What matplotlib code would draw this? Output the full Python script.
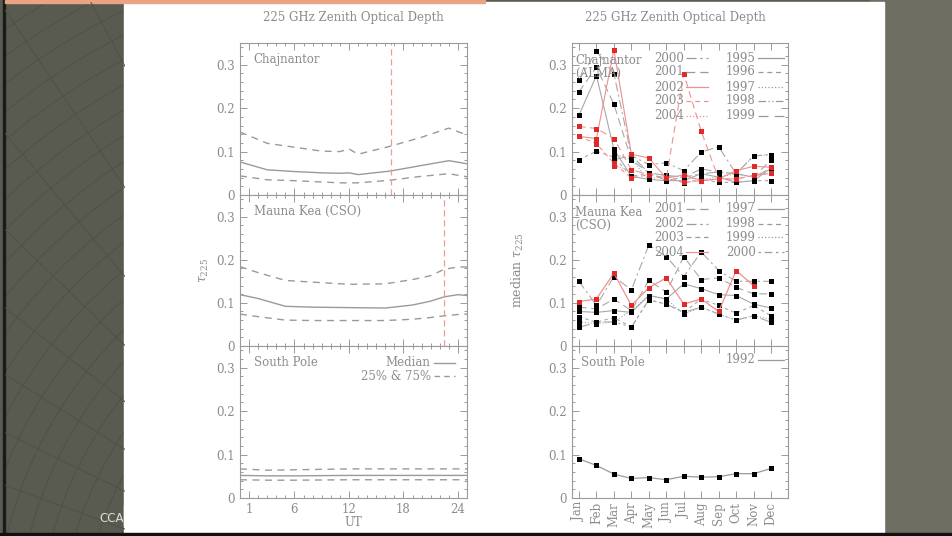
import numpy as np
import matplotlib.pyplot as plt
from matplotlib.patches import Rectangle, Circle
from matplotlib.ticker import MultipleLocator, FixedLocator, NullLocator

plt.rcParams['font.family'] = ['DejaVu Serif', 'DejaVu Sans']
plt.rcParams['mathtext.fontset'] = 'dejavuserif'

# ---- left column: diurnal tau vs UT ----
chaj_ut = [0, 3, 6, 9, 11, 12, 13, 16.5, 20, 23, 25]
chaj_median = [0.076, 0.058, 0.054, 0.051, 0.050, 0.051, 0.047, 0.055, 0.068, 0.079, 0.072]
chaj_q75 = [0.145, 0.119, 0.110, 0.101, 0.100, 0.106, 0.094, 0.112, 0.133, 0.154, 0.138]
chaj_q25 = [0.044, 0.035, 0.033, 0.030, 0.028, 0.028, 0.028, 0.034, 0.043, 0.049, 0.042]
chaj_mark = 16.6

mk_ut = [0, 2, 5, 8, 12, 16, 19, 21, 22.5, 24, 25]
mk_median = [0.119, 0.110, 0.092, 0.090, 0.089, 0.088, 0.095, 0.104, 0.114, 0.119, 0.117]
mk_q75 = [0.184, 0.170, 0.152, 0.148, 0.143, 0.144, 0.154, 0.163, 0.178, 0.183, 0.183]
mk_q25 = [0.074, 0.068, 0.060, 0.059, 0.059, 0.059, 0.062, 0.066, 0.070, 0.073, 0.074]
mk_mark = 22.5

sp_ut = [0, 3, 6, 12, 18, 25]
sp_median = [0.052, 0.051, 0.051, 0.052, 0.052, 0.052]
sp_q75 = [0.067, 0.064, 0.065, 0.067, 0.067, 0.067]
sp_q25 = [0.042, 0.041, 0.041, 0.042, 0.042, 0.042]

ut_ticks = [1, 6, 12, 18, 24]

# ---- right column: monthly medians per year ----
months = list(range(1, 13))
month_labels = ['Jan', 'Feb', 'Mar', 'Apr', 'May', 'Jun',
                'Jul', 'Aug', 'Sep', 'Oct', 'Nov', 'Dec']
nan = np.nan

chaj_years_black = [
    [0.265, 0.331, 0.279, 0.091, 0.070, 0.074, 0.056, 0.099, 0.111, 0.049, 0.090, 0.093],
    [0.238, 0.294, 0.209, 0.081, 0.051, 0.045, 0.041, 0.060, 0.053, 0.049, 0.041, 0.081],
    [0.184, 0.275, 0.105, 0.043, 0.036, 0.033, 0.033, 0.049, 0.041, 0.029, 0.033, 0.062],
    [0.081, 0.101, 0.087, 0.043, 0.051, 0.045, 0.028, 0.036, 0.029, 0.029, 0.033, 0.033],
    [nan, nan, 0.095, 0.081, 0.036, 0.045, 0.041, 0.036, 0.041, 0.049, 0.090, 0.093],
    [nan, nan, 0.081, 0.091, 0.051, 0.033, 0.041, 0.049, 0.053, 0.049, 0.041, 0.062],
]
chaj_years_red = [
    [0.135, 0.130, 0.335, 0.094, 0.085, 0.039, 0.046, 0.033, 0.037, 0.056, 0.066, 0.064],
    [0.158, 0.153, 0.130, 0.058, 0.047, 0.039, 0.279, 0.147, 0.037, 0.037, 0.045, 0.050],
    [0.135, 0.118, 0.073, 0.039, 0.047, 0.039, 0.029, 0.033, 0.037, 0.037, 0.045, 0.050],
    [nan, nan, 0.066, 0.058, nan, nan, nan, nan, nan, nan, nan, nan],
]
chaj_leg_left = ['2000', '2001', '2002', '2003', '2004']
chaj_leg_right = ['1995', '1996', '1997', '1998', '1999']

mk_years_black = [
    [0.150, 0.094, 0.161, 0.130, 0.234, 0.207, 0.161, 0.218, 0.175, 0.150, 0.150, 0.150],
    [0.090, 0.086, 0.109, 0.082, 0.152, 0.125, 0.207, 0.154, 0.158, 0.136, 0.121, 0.121],
    [0.080, 0.078, 0.082, 0.078, 0.117, 0.109, 0.144, 0.133, 0.119, 0.117, 0.097, 0.088],
    [0.068, 0.055, 0.066, 0.044, 0.107, 0.097, 0.078, 0.109, 0.094, 0.076, 0.094, 0.070],
    [0.056, 0.052, 0.056, 0.082, 0.117, 0.109, 0.074, 0.090, 0.074, 0.060, 0.070, 0.062],
    [0.043, 0.055, 0.056, 0.044, 0.107, 0.097, 0.078, 0.090, 0.074, 0.060, 0.070, 0.055],
]
mk_year_red = [0.103, 0.109, 0.169, 0.094, 0.135, 0.158, 0.097, 0.109, 0.080, 0.175, 0.140, nan]
mk_leg_left = ['2001', '2002', '2003', '2004']
mk_leg_right = ['1997', '1998', '1999', '2000']

sp_1992 = [0.090, 0.075, 0.055, 0.045, 0.047, 0.042, 0.050, 0.048, 0.049, 0.056, 0.056, 0.068]

GRAY = '#9a9a9a'
TXT = '#8c8c8c'
RED_M = '#e02a2a'
RED_L = '#f09090'
styles = [(0, (8, 3, 2, 3)), (0, (7, 4)), '-', (0, (3, 3)), ':',
          (0, (10, 3, 2, 3, 2, 3)), (0, (1, 2))]

W, H = 953, 536
fig = plt.figure(figsize=(W / 100, H / 100), dpi=100)

# slide background
bg = fig.add_axes([0, 0, 1, 1])
bg.set_xlim(0, W)
bg.set_ylim(H, 0)
bg.axis('off')
bg.add_patch(Rectangle((0, 0), W, H, color='#5a5b50'))
bg.add_patch(Rectangle((870, 0), W - 870, H, color='#6e6f62'))
clip = Rectangle((5, 2), 120, 531, transform=bg.transData)
for r in range(40, 900, 22):
    c = Circle((430, 640), r, fill=False, ec='#4f5047', lw=0.7)
    bg.add_patch(c)
    c.set_clip_path(clip)
for ang in np.arange(100, 200, 6):
    a = np.deg2rad(ang)
    ln, = bg.plot([430, 430 + 1200 * np.cos(a)], [640, 640 - 1200 * np.sin(a)],
                  color='#4f5047', lw=0.7)
    ln.set_clip_path(clip)
bg.add_patch(Rectangle((3, 0), 2.5, H, color='#1a1a1a'))
bg.add_patch(Rectangle((124, 2), 760, 531, color='white'))
bg.add_patch(Rectangle((5, 0), 480, 2.5, color='#e9a483'))
bg.add_patch(Rectangle((0, 533), W, 3, color='#111111'))
bg.text(99, 519, 'CCA', color='#dddddd', fontsize=8.5, family='DejaVu Sans',
        va='center', ha='left')
bg.add_patch(Rectangle((124, 505), 10, 20, color='white'))


def fx(px):
    return px / W


def fy(py):
    return 1 - py / H


rows = [(43, 195), (195, 346), (346, 498)]


def style_axes(ax):
    ax.set_ylim(0, 0.35)
    ax.yaxis.set_major_locator(FixedLocator([0, 0.1, 0.2, 0.3]))
    ax.yaxis.set_major_formatter(plt.FuncFormatter(lambda v, p: '0' if v == 0 else f'{v:.1f}'))
    ax.yaxis.set_minor_locator(MultipleLocator(0.02))
    ax.tick_params(which='both', direction='in', top=True, right=True,
                   colors=GRAY, labelcolor=TXT, labelsize=8.5, width=0.7)
    ax.tick_params(which='major', length=5)
    ax.tick_params(which='minor', length=2.5)
    for s in ax.spines.values():
        s.set_color(GRAY)
        s.set_linewidth(0.8)


left_axes = []
for top, bot in rows:
    ax = fig.add_axes([fx(240), fy(bot), fx(467 - 240), (bot - top) / H])
    style_axes(ax)
    ax.set_xlim(0, 25)
    ax.xaxis.set_major_locator(FixedLocator(ut_ticks))
    ax.xaxis.set_minor_locator(MultipleLocator(1))
    ax.set_xticklabels([])
    left_axes.append(ax)

right_axes = []
for top, bot in rows:
    ax = fig.add_axes([fx(572), fy(bot), fx(788 - 572), (bot - top) / H])
    style_axes(ax)
    ax.set_xlim(0.6, 12.97)
    ax.xaxis.set_major_locator(FixedLocator(months))
    ax.xaxis.set_minor_locator(NullLocator())
    ax.set_xticklabels([])
    right_axes.append(ax)

# left panels
left_sets = [(chaj_ut, chaj_median, chaj_q75, chaj_q25, chaj_mark, 'Chajnantor'),
             (mk_ut, mk_median, mk_q75, mk_q25, mk_mark, 'Mauna Kea (CSO)'),
             (sp_ut, sp_median, sp_q75, sp_q25, None, 'South Pole')]
for ax, (ut, med, q75, q25, mark, name) in zip(left_axes, left_sets):
    ax.plot(ut, med, color=GRAY, lw=1.0)
    ax.plot(ut, q75, color=GRAY, lw=1.0, ls=(0, (5, 4)))
    ax.plot(ut, q25, color=GRAY, lw=1.0, ls=(0, (5, 4)))
    if mark is not None:
        ax.axvline(mark, color='#f29a9a', lw=0.9, ls=(0, (5, 3)))
    ax.text(0.06, 0.87, name, transform=ax.transAxes, color=TXT, fontsize=8.5)

left_axes[2].set_xticklabels([str(t) for t in ut_ticks])
left_axes[2].set_xlabel('UT', color=TXT, fontsize=8.5, labelpad=0)
left_axes[1].set_ylabel(r'$\tau_{225}$', color=TXT, fontsize=9, labelpad=4)

ax = left_axes[2]
ax.text(0.84, 0.89, 'Median', transform=ax.transAxes, color=TXT, fontsize=8.5, ha='right', va='center')
ax.text(0.84, 0.80, '25% & 75%', transform=ax.transAxes, color=TXT, fontsize=8.5, ha='right', va='center')
ax.plot([0.855, 0.945], [0.89, 0.89], transform=ax.transAxes, color=GRAY, lw=1)
ax.plot([0.855, 0.945], [0.80, 0.80], transform=ax.transAxes, color=GRAY, lw=1, ls=(0, (4, 3)))

# right panels
ax = right_axes[0]
for i, vals in enumerate(chaj_years_black):
    ax.plot(months, vals, color='#a8a8a8', lw=0.8, ls=styles[i % len(styles)])
    ax.plot(months, vals, 's', color='black', ms=3.6, mew=0)
for i, vals in enumerate(chaj_years_red):
    ax.plot(months, vals, color=RED_L, lw=0.8, ls=['-', (0, (6, 4)), (0, (4, 3)), ':'][i])
    ax.plot(months, vals, 's', color=RED_M, ms=3.6, mew=0)
ax.text(0.015, 0.84, 'Chajnantor\n(ALMA)', transform=ax.transAxes, color=TXT,
        fontsize=8.5, va='center', linespacing=1.0)

leg_y = [0.90, 0.81, 0.71, 0.62, 0.52]
left_ls = [(0, (8, 3, 2, 3)), (0, (7, 4)), '-', (0, (4, 3)), ':']
left_col = [GRAY, GRAY, RED_L, RED_L, RED_L]
right_ls = ['-', (0, (4, 3)), ':', (0, (6, 2, 1, 2, 1, 2)), (0, (8, 5))]
for y, lab, ls, c in zip(leg_y, chaj_leg_left, left_ls, left_col):
    ax.text(0.52, y, lab, transform=ax.transAxes, color=TXT, fontsize=8.5, ha='right', va='center')
    ax.plot([0.53, 0.63], [y, y], transform=ax.transAxes, color=c, lw=0.9, ls=ls)
for y, lab, ls in zip(leg_y, chaj_leg_right, right_ls):
    ax.text(0.85, y, lab, transform=ax.transAxes, color=TXT, fontsize=8.5, ha='right', va='center')
    ax.plot([0.86, 0.98], [y, y], transform=ax.transAxes, color=GRAY, lw=0.9, ls=ls)

ax = right_axes[1]
for i, vals in enumerate(mk_years_black):
    ax.plot(months, vals, color='#a8a8a8', lw=0.8, ls=styles[i % len(styles)])
    ax.plot(months, vals, 's', color='black', ms=3.6, mew=0)
ax.plot(months, mk_year_red, color=RED_L, lw=0.9)
ax.plot(months, mk_year_red, 's', color=RED_M, ms=3.6, mew=0)
ax.text(0.015, 0.84, 'Mauna Kea\n(CSO)', transform=ax.transAxes, color=TXT,
        fontsize=8.5, va='center', linespacing=1.0)
ax.set_ylabel(r'median $\tau_{225}$', color=TXT, fontsize=9, labelpad=16)
leg_y = [0.91, 0.81, 0.72, 0.62]
left_ls = [(0, (7, 4)), (0, (8, 3, 2, 3)), (0, (4, 3)), '-']
left_col = [GRAY, GRAY, GRAY, RED_L]
right_ls = ['-', (0, (4, 3)), ':', (0, (2, 3, 6, 3))]
for y, lab, ls, c in zip(leg_y, mk_leg_left, left_ls, left_col):
    ax.text(0.52, y, lab, transform=ax.transAxes, color=TXT, fontsize=8.5, ha='right', va='center')
    ax.plot([0.53, 0.63], [y, y], transform=ax.transAxes, color=c, lw=0.9, ls=ls)
for y, lab, ls in zip(leg_y, mk_leg_right, right_ls):
    ax.text(0.85, y, lab, transform=ax.transAxes, color=TXT, fontsize=8.5, ha='right', va='center')
    ax.plot([0.86, 0.98], [y, y], transform=ax.transAxes, color=GRAY, lw=0.9, ls=ls)

ax = right_axes[2]
ax.plot(months, sp_1992, color=GRAY, lw=0.9)
ax.plot(months, sp_1992, 's', color='black', ms=3.6, mew=0)
ax.text(0.04, 0.87, 'South Pole', transform=ax.transAxes, color=TXT, fontsize=8.5)
ax.text(0.85, 0.91, '1992', transform=ax.transAxes, color=TXT, fontsize=8.5, ha='right', va='center')
ax.plot([0.86, 0.98], [0.91, 0.91], transform=ax.transAxes, color=GRAY, lw=0.9)
ax.set_xticklabels(month_labels, rotation=90)
ax.tick_params(axis='x', pad=3)

fig.text(fx(353), fy(18), '225 GHz Zenith Optical Depth', color=TXT, fontsize=8.5,
         ha='center', va='center')
fig.text(fx(675), fy(18), '225 GHz Zenith Optical Depth', color=TXT, fontsize=8.5,
         ha='center', va='center')

fig.savefig('out.png', dpi=100)
